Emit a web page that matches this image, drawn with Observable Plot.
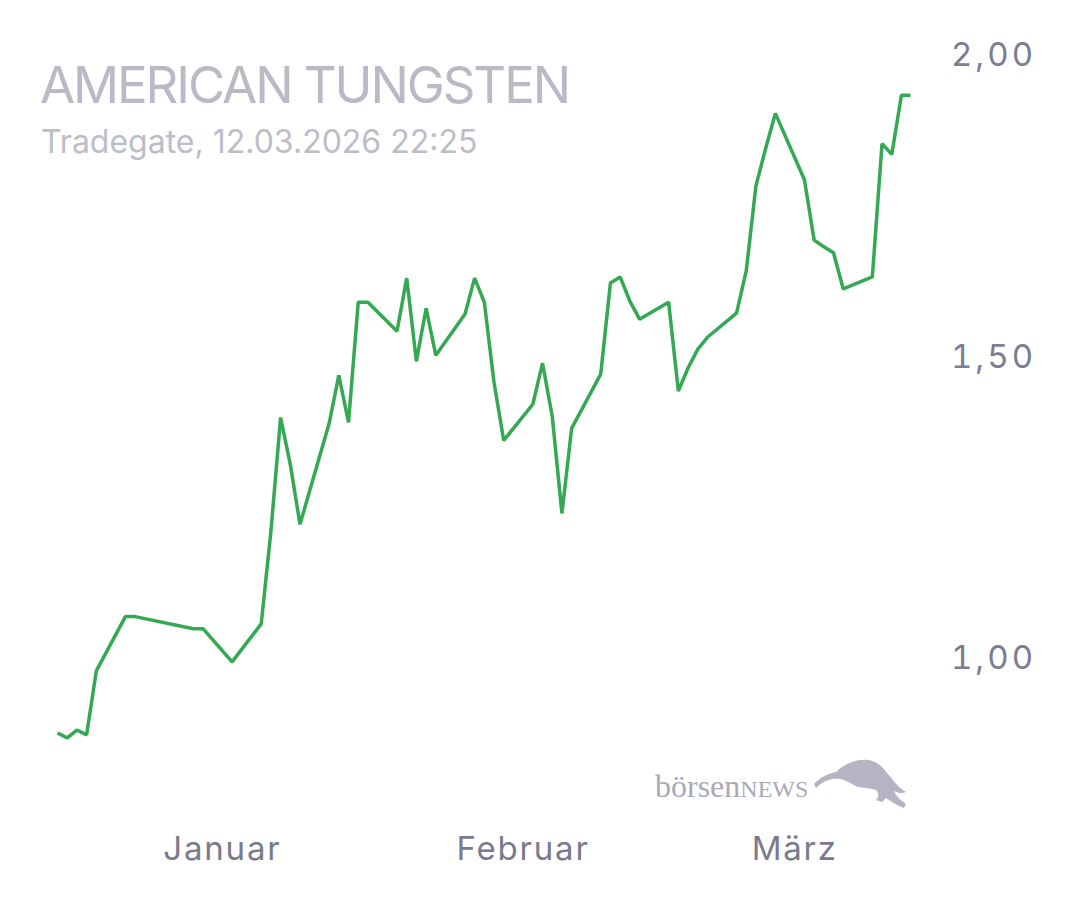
<!DOCTYPE html>
<html>
<head>
<meta charset="utf-8">
<script src="https://cdn.jsdelivr.net/npm/d3@7"></script>
<script src="https://cdn.jsdelivr.net/npm/@observablehq/plot@0.6"></script>
<style>
  html, body { margin: 0; padding: 0; background: #fff; }
  #wrap { position: relative; width: 1080px; height: 900px; overflow: hidden; }
  #title { position: absolute; left: 40px; top: 54px; font-family: Inter, sans-serif; font-size: 51px; color: #babac6; letter-spacing: -2.1px; white-space: nowrap; }
  #subtitle { position: absolute; left: 41px; top: 122px; font-family: Inter, sans-serif; font-size: 32px; color: #bdbdc9; white-space: nowrap; }
  #logo { position: absolute; left: 655px; top: 752px; font-family: "Liberation Serif", serif; color: #a9a9b8; white-space: nowrap; }
  g[aria-label="y-axis tick label"] text { letter-spacing: 3px; }
  g[aria-label="x-axis tick label"] text { letter-spacing: 1.8px; }
</style>
</head>
<body>
<div id="wrap">
  <div id="chart"></div>
  <div id="title">AMERICAN TUNGSTEN</div>
  <div id="subtitle">Tradegate, 12.03.2026 22:25</div>
  <div id="logo">
    <span style="font-size:32px;position:absolute;left:0;top:16px;">börsen<span style="font-size:24px;">NEWS</span></span>
    <svg width="100" height="60" style="position:absolute;left:155px;top:2px;">
      <path d="M4,30 C10,24 16,20 26,18 C34,10 46,5 58,6 C66,7 72,12 76,18 C80,22 84,28 90,34 L96,38 C92,40 88,39 84,37 C86,42 90,46 96,50 L94,54 C88,52 82,48 76,44 L72,48 L66,46 C68,44 70,40 66,36 C60,34 54,34 48,33 C42,30 36,26 30,25 C22,24 14,26 6,34 Z" fill="#b4b4c2"/>
    </svg>
  </div>
</div>
<script>
// Trading dates and closing prices (EUR)
const dates = [
  "2025-12-15","2025-12-16","2025-12-17","2025-12-18","2025-12-19",
  "2025-12-22","2025-12-23","2025-12-29","2025-12-30",
  "2026-01-02","2026-01-05","2026-01-06","2026-01-07","2026-01-08","2026-01-09",
  "2026-01-12","2026-01-13","2026-01-14","2026-01-15","2026-01-16",
  "2026-01-19","2026-01-20","2026-01-21","2026-01-22","2026-01-23",
  "2026-01-26","2026-01-27","2026-01-28","2026-01-29","2026-01-30",
  "2026-02-02","2026-02-03","2026-02-04","2026-02-05","2026-02-06",
  "2026-02-09","2026-02-10","2026-02-11","2026-02-12","2026-02-13",
  "2026-02-16","2026-02-17","2026-02-18","2026-02-19","2026-02-20",
  "2026-02-23","2026-02-24","2026-02-25","2026-02-26","2026-02-27",
  "2026-03-02","2026-03-03","2026-03-04","2026-03-05","2026-03-06",
  "2026-03-09","2026-03-10","2026-03-11","2026-03-12","2026-03-12T22:25"
];
const prices = [
  0.877,0.869,0.882,0.874,0.980,
  1.070,1.070,1.050,1.050,
  0.995,1.058,1.211,1.400,1.322,1.223,
  1.390,1.470,1.392,1.591,1.591,
  1.543,1.631,1.493,1.581,1.503,
  1.571,1.631,1.591,1.458,1.362,
  1.422,1.490,1.402,1.241,1.382,
  1.472,1.623,1.633,1.593,1.563,
  1.591,1.444,1.482,1.513,1.533,
  1.573,1.643,1.784,1.846,1.904,
  1.794,1.694,1.683,1.673,1.613,
  1.633,1.854,1.836,1.934,1.934
];
const yTicks = [1.0, 1.5, 2.0];
const monthTicks = ["2026-01-01","2026-02-01","2026-03-01"];
const monthLabels = ["Januar","Februar","März"];

const data = dates.map((d, i) => ({date: new Date(d.length > 10 ? d + ":00Z" : d + "T00:00:00Z"), price: prices[i]}));
const xTickDates = monthTicks.map(d => new Date(d + "T00:00:00Z"));
const labelOf = new Map(xTickDates.map((d, i) => [+d, monthLabels[i]]));

const chart = Plot.plot({
  width: 1080,
  height: 900,
  marginLeft: 57,
  marginRight: 170,
  marginTop: 55,
  marginBottom: 121,
  style: {fontFamily: "Inter, sans-serif", background: "transparent"},
  x: {type: "utc", domain: [data[0].date, data[data.length - 1].date]},
  y: {domain: [0.8, 2.0]},
  marks: [
    Plot.axisY({
      anchor: "right", ticks: yTicks, tickSize: 0, tickPadding: 83,
      textAnchor: "middle", fontSize: 33, fill: "#7d7d91",
      tickFormat: d => d.toFixed(2).replace(".", ","), label: null
    }),
    Plot.axisX({
      ticks: xTickDates, tickSize: 0, tickPadding: 57,
      fontSize: 33, fill: "#7a7a8e",
      tickFormat: d => labelOf.get(+d), label: null
    }),
    Plot.line(data, {x: "date", y: "price", stroke: "#34a853", strokeWidth: 3.5, strokeLinejoin: "miter", strokeLinecap: "butt"})
  ]
});
document.getElementById("chart").appendChild(chart);
</script>
</body>
</html>
